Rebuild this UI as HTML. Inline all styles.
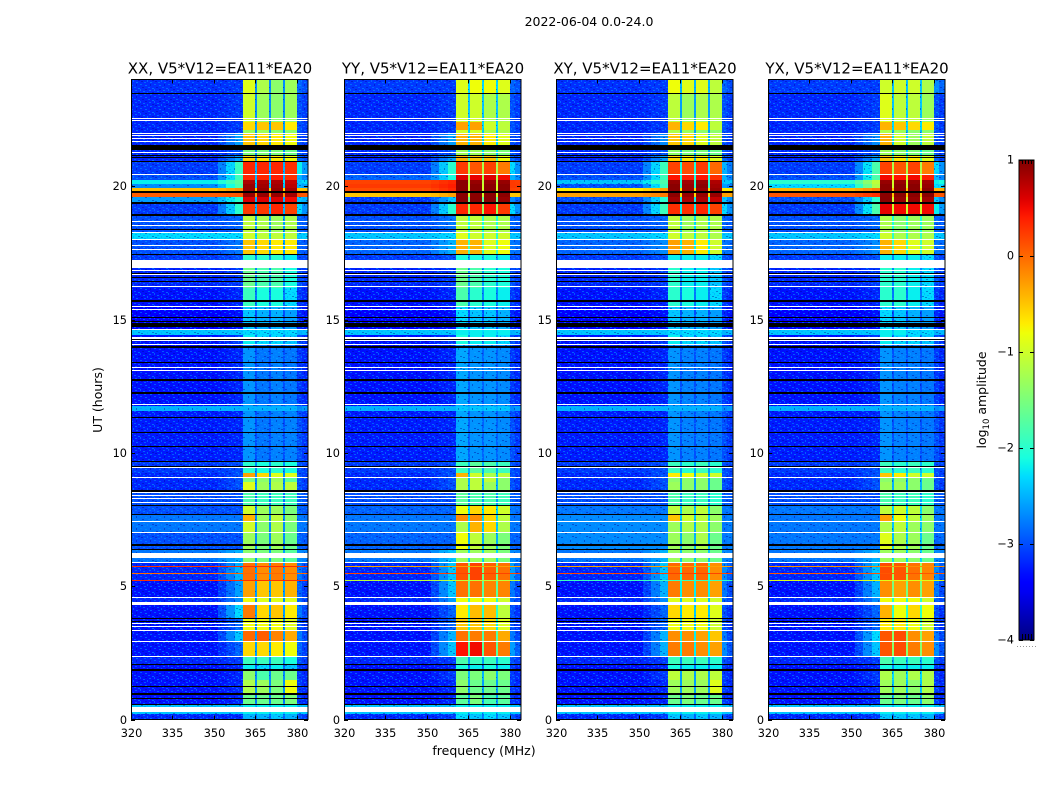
<!DOCTYPE html>
<html lang="en">
<head>
<meta charset="utf-8">
<title>2022-06-04 spectrogram</title>
<style>
html,body{margin:0;padding:0;background:#fff;width:1050px;height:800px;overflow:hidden}
svg{display:block;font-family:"DejaVu Sans","Liberation Sans",sans-serif;fill:#000}
</style>
</head>
<body>
<svg id="chart" xmlns="http://www.w3.org/2000/svg" width="1050" height="800" viewBox="0 0 1050 800">
<defs>
<pattern id="speckle" width="14" height="12" patternUnits="userSpaceOnUse">
<rect x="0" y="0" width="2" height="1" fill="#0090ff" opacity=".55"/>
<rect x="5" y="1" width="2" height="1" fill="#00a0ff" opacity=".55"/>
<rect x="10" y="0" width="1" height="2" fill="#000090" opacity=".4"/>
<rect x="2" y="3" width="2" height="1" fill="#000090" opacity=".4"/>
<rect x="8" y="3" width="2" height="1" fill="#0090ff" opacity=".55"/>
<rect x="12" y="4" width="2" height="1" fill="#00b0ff" opacity=".5"/>
<rect x="0" y="5" width="1" height="2" fill="#00a0ff" opacity=".5"/>
<rect x="5" y="5" width="2" height="1" fill="#000090" opacity=".4"/>
<rect x="9" y="6" width="2" height="1" fill="#0090ff" opacity=".55"/>
<rect x="3" y="7" width="2" height="1" fill="#00a0ff" opacity=".55"/>
<rect x="12" y="8" width="2" height="1" fill="#000090" opacity=".4"/>
<rect x="7" y="8" width="1" height="2" fill="#00a0ff" opacity=".5"/>
<rect x="1" y="9" width="2" height="1" fill="#000090" opacity=".4"/>
<rect x="4" y="10" width="2" height="1" fill="#0090ff" opacity=".55"/>
<rect x="10" y="10" width="2" height="1" fill="#00b0ff" opacity=".5"/>
</pattern>
<linearGradient id="jet-gradient" x1="0" y1="1" x2="0" y2="0"></linearGradient>
</defs>
<text x="589" y="26" text-anchor="middle" font-size="12.5">2022-06-04 0.0-24.0</text>
<text x="484" y="755" text-anchor="middle" font-size="12.5">frequency (MHz)</text>
<text transform="translate(102,400) rotate(-90)" text-anchor="middle" font-size="12.5">UT (hours)</text>
<text transform="translate(986,400) rotate(-90)" text-anchor="middle" font-size="12.5">log<tspan font-size="8.5" dy="3">10</tspan><tspan dy="-3"> amplitude</tspan></text>
<g id="panels"></g>
<g id="colorbar"></g>
</svg>
<script>
// Panel titles
const panelTitles = ["XX, V5*V12=EA11*EA20","YY, V5*V12=EA11*EA20","XY, V5*V12=EA11*EA20","YX, V5*V12=EA11*EA20"];
// Axis tick labels
const freqTicks = [320,335,350,365,380];
const hourTicks = [0,5,10,15,20];
const colorTicks = [1,0,-1,-2,-3,-4];
const colorTickLabels = ["1","0","\u22121","\u22122","\u22123","\u22124"];
// Frequency channel edges (MHz)
const freqEdges = [320,351.5,354.5,357.5,360.4,364.8,365.5,369.8,370.5,374.9,375.6,379.9,382,384];
// UT hour at which each time segment begins, last value is the end of the range
const segmentStarts = [0,.2,.6,.96,1.48,1.86,2.08,2.34,2.91,3.35,3.8,4.3,4.6,5.2,5.9,6.35,7,7.41,7.67,8.05,8.57,8.9,9.06,9.25,9.7,11.56,11.75,14.05,14.42,14.62,15.5,16.2,17,17.42,18.02,18.24,18.95,19.35,19.6,19.78,19.95,20.1,20.22,20.45,20.92,21.12,21.54,21.98,22.12,22.42,23.5,24];
// log10 amplitude per segment: background, shoulder, band1, band2, band3, band4, right edge, gap
const levelsXX = [
[-3.2,-3.2,-2.5,-2.5,-2.4,-2.5,-3,-2.9],[-2.4,-2.4,-2.2,-2.2,-2.2,-2.2,-2.4,-2.4],[-3.3,-3.2,-1.6,-1.6,-1.6,-1.5,-3.1,-2.8],[-3.3,-3.2,-1.2,-1.3,-1.5,-.8,-3.1,-2.7],
[-3.3,-3.2,-1.4,-1.8,-1.6,-1.6,-3.1,-2.7],[-3.3,-3.2,-2.2,-2.3,-2.2,-2.4,-3.1,-2.9],[-3.2,-3.1,-1.9,-1.9,-1.9,-2.1,-3,-2.7],[-3.3,-2.9,-.6,-.6,-.7,-.8,-2.9,-2.6],
[-3.3,-2.4,0,.05,-.15,-.35,-2.8,-2.6],[-3.3,-2.9,-.8,-.8,-.8,-.9,-3,-2.7],[-3.3,-2.3,-.1,-.6,-.5,-.7,-2.8,-2.6],[-3.2,-2.7,-.8,-.9,-.9,-.9,-2.9,-2.7],
[-3.3,-2.6,-.3,-.5,-.5,-.4,-2.9,-2.6],[-3.2,-2.5,-.05,-.2,-.1,-.2,-2.8,-2.6],[-2.8,-2.5,-1.4,-1.5,-1.5,-1.7,-2.7,-2.6],[-3,-3,-1.3,-1.5,-1.3,-1.6,-2.9,-2.7],
[-2.8,-2.8,-1,-1.4,-1.2,-1.5,-2.8,-2.7],[-2.8,-2.8,-.4,-1.3,-1.1,-1.4,-2.8,-2.7],[-3,-3,-1,-1.3,-1.3,-1.5,-2.9,-2.7],[-3,-3,-1.8,-1.9,-1.9,-1.9,-2.9,-2.8],
[-3.2,-3,-.9,-1.3,-1.2,-1.1,-3,-2.7],[-3.2,-3,-1.5,-1.4,-1.3,-1.7,-3,-2.7],[-3.2,-3,-.3,-.6,-.9,-.9,-3,-2.7],[-3.1,-3,-2,-2.1,-2,-2.1,-3,-2.7],
[-3.25,-3.2,-2.65,-2.8,-2.75,-2.75,-3,-3],[-2.5,-2.5,-2.5,-2.5,-2.5,-2.5,-2.7,-2.5],[-3.3,-3.2,-2.65,-2.8,-2.75,-2.8,-3.1,-3],[-3.3,-3.1,-2.2,-2.3,-2.3,-2.4,-3,-2.8],
[-2.4,-2.4,-2.3,-2.3,-2.3,-2.3,-2.5,-2.4],[-3.4,-3.3,-2.4,-2.5,-2.5,-2.6,-3.2,-3],[-3.3,-3.2,-1.9,-2.1,-2.1,-2.3,-3.1,-2.8],[-3.2,-3.1,-1.6,-1.8,-1.8,-2.1,-3,-2.7],
[-3.1,-3,-2,-2,-2,-2.2,-3,-2.7],[-3,-2.8,-.5,-.6,-.7,-.7,-2.9,-2.6],[-2.3,-2.3,-1,-1.1,-1.1,-1.1,-2.4,-2.3],[-3,-2.9,-1.1,-1.2,-1.3,-1.2,-2.9,-2.6],
[-3.1,-2,.25,.25,.35,.2,-2.3,-2.5],[-2.6,-2,.6,.6,.6,.5,-2.4,-2.5],[.05,.1,.9,.9,.9,.85,.1,-.2],[-.45,-.2,.9,.9,.9,.85,-.5,-.6],
[-2.7,-1.8,.9,.85,.85,.75,-2.5,-2.4],[-2.2,-1.7,.8,.8,.8,.7,-2.4,-2.3],[-3,-1.9,.35,.35,.4,.3,-2.5,-2.5],[-3.1,-1.9,.35,.35,.35,.3,-2.2,-2.5],
[-3.2,-2.6,-.6,-.7,-.7,-.8,-2.9,-2.6],[-3.2,-3,-1.5,-1.5,-1.5,-1.6,-3,-2.7],[-3.2,-2.6,-.5,-.6,-.7,-.8,-3,-2.6],[-3.2,-3.1,-1.3,-1.3,-1.4,-1.4,-3,-2.7],
[-3.2,-3.1,-.6,-.5,-.5,-.7,-3,-2.6],[-3.2,-3.1,-1,-1.3,-1.4,-1.3,-3,-2.7],[-3.15,-3.1,-.9,-1.2,-1.4,-1.3,-2.9,-2.7]
];
const levelsYY = [
[-3.2,-3.1,-2.3,-2.4,-2.3,-2.4,-3,-2.8],[-2.4,-2.4,-2.2,-2.2,-2.2,-2.2,-2.4,-2.4],[-3.3,-3.2,-1.7,-1.5,-1.8,-1.7,-3.1,-2.6],[-3.3,-3.2,-1.4,-1.6,-1.6,-1.6,-3.1,-2.6],
[-3.3,-3.1,-1.5,-1.5,-1.4,-1.5,-3.1,-2.5],[-3.3,-3.2,-2.1,-2.2,-2.1,-2.2,-3.1,-2.8],[-3.2,-3.1,-1.8,-1.9,-1.9,-2,-3,-2.6],[-3.3,-2.4,.45,.5,.1,-.1,-2.6,-1.7],
[-3.3,-2.5,-.05,-.1,-.1,-.35,-2.8,-1.8],[-3.3,-2.9,-.5,-.5,-.6,-.9,-3,-2.2],[-3.3,-2.9,-.7,-.45,-.45,-1.1,-3,-2],[-3.2,-2.6,-.8,-.8,-.8,-1,-2.9,-2],
[-3.3,-2.4,-.05,-.05,-.15,-.15,-2.8,-1.7],[-3.2,-2.4,.1,.2,.05,-.05,-2.6,-1.6],[-2.8,-2.4,-1.3,-1.3,-1.3,-1.5,-2.7,-2.3],[-2.9,-2.9,-.8,-1.1,-1.3,-1.5,-2.9,-2.5],
[-2.8,-2.8,-1.2,-.4,-.6,-1.2,-2.8,-2.4],[-2.8,-2.8,-.2,-.2,-.6,-1.1,-2.8,-2.3],[-2.9,-2.9,-.8,-.6,-.7,-1,-2.8,-2.3],[-3,-3,-1.7,-1.8,-1.8,-1.9,-2.9,-2.6],
[-3.2,-3,-1.2,-1.1,-1.3,-1.4,-3,-2.5],[-3.2,-3,-1.2,-1.1,-1.1,-1.4,-3,-2.5],[-3.2,-3,-.4,-1,-1.2,-1.1,-3,-2.4],[-3.1,-3,-1.9,-1.7,-1.8,-1.9,-3,-2.5],
[-3.25,-3.2,-2.55,-2.65,-2.65,-2.7,-3,-2.9],[-2.5,-2.5,-2.4,-2.4,-2.4,-2.4,-2.7,-2.5],[-3.3,-3.2,-2.55,-2.65,-2.65,-2.7,-3.1,-2.9],[-3.3,-3.1,-2.1,-2.2,-2.2,-2.3,-3,-2.7],
[-2.4,-2.4,-2.2,-2.2,-2.2,-2.2,-2.5,-2.3],[-3.4,-3.3,-2.3,-2.4,-2.4,-2.5,-3.2,-3],[-3.3,-3.2,-1.8,-2,-2.1,-2.2,-3.1,-2.7],[-3.2,-3.1,-1.6,-1.8,-2,-2.1,-3,-2.6],
[-3.1,-3,-2.1,-2.1,-2.1,-2.2,-3,-2.6],[-2.9,-2.5,-.4,-.4,-.9,-.8,-2.8,-1.9],[-2.4,-2.3,-.9,-1,-1,-1,-2.4,-2],[-3,-2.8,-1.1,-1.1,-1.2,-1.2,-2.9,-2.1],
[-3.1,-2,.35,.35,.45,.25,-2.3,-1.3],[-3.1,-2.4,.95,.95,.95,.9,-2.7,-1.6],[-.5,-.3,.95,.95,.95,.95,-.5,-1],[.15,.35,.95,.95,.95,.95,.2,-1],
[.25,.4,.95,.95,.95,.95,.25,-1],[.2,.35,.95,.9,.9,.9,.25,-1.1],[-2.9,-2.1,.6,.55,.6,.5,-2.5,-1.2],[-3.1,-2,.25,.1,.2,-.1,-2.3,-1.2],
[-3.2,-2.6,-.4,-.5,-.5,-.8,-2.9,-1.8],[-3.2,-3,-1.3,-1.3,-1.4,-1.5,-3,-2.3],[-3.2,-2.6,-.4,-.4,-.7,-.9,-3,-2.3],[-3.2,-3.1,-1,-1,-1.2,-1.2,-3,-2.4],
[-3.2,-3.1,-.3,-.3,-1,-1.1,-3,-2.3],[-3.2,-3.1,-1,-1,-1.2,-1.2,-3,-2.4],[-3.1,-3.1,-.9,-.8,-.8,-.9,-2.9,-2.3]
];
const levelsXY = [
[-3.2,-3.1,-2.4,-2.5,-2.4,-2.5,-3,-2.9],[-2.4,-2.4,-2.2,-2.2,-2.2,-2.2,-2.4,-2.4],[-3.3,-3.2,-1.6,-1.5,-1.6,-1.6,-3.1,-2.7],[-3.3,-3.2,-1.3,-1.3,-1.3,-.9,-3.1,-2.6],
[-3.3,-3.1,-1.1,-1.2,-1.2,-1.1,-3.1,-2.6],[-3.3,-3.2,-2.1,-2.2,-2.2,-2.2,-3.1,-2.8],[-3.2,-3.1,-1.9,-1.9,-1.9,-2,-3,-2.7],[-3.3,-2.5,-.1,-.1,-.2,-.3,-2.7,-2.2],
[-3.3,-2.5,-.2,-.2,-.3,-.5,-2.8,-2.2],[-3.3,-2.9,-.8,-.8,-.8,-1,-3,-2.4],[-3.3,-2.9,-.6,-.7,-.7,-.9,-3,-2.4],[-3.2,-2.7,-.9,-.9,-.9,-1,-2.9,-2.4],
[-3.3,-2.5,-.1,-.2,-.2,-.3,-2.8,-2.2],[-3.2,-2.4,0,0,0,-.2,-2.7,-2.1],[-2.8,-2.5,-1.3,-1.4,-1.4,-1.6,-2.7,-2.4],[-2.7,-2.7,-1.3,-1.4,-1.2,-1.6,-2.8,-2.5],
[-2.7,-2.7,-1.3,-1.2,-1.2,-1.4,-2.8,-2.5],[-2.7,-2.7,-.5,-1,-1.1,-1.3,-2.8,-2.4],[-2.8,-2.8,-1.1,-1.2,-1.1,-1.4,-2.8,-2.4],[-3,-3,-1.8,-1.9,-1.9,-2,-2.9,-2.7],
[-3.2,-3,-1.3,-1.4,-1.4,-1.6,-3,-2.6],[-3.2,-3,-1.4,-1.4,-1.4,-1.6,-3,-2.6],[-3.2,-3,-.7,-.8,-1,-1,-3,-2.5],[-3.1,-3,-1.9,-2,-1.9,-2,-3,-2.6],
[-3.25,-3.2,-2.65,-2.75,-2.75,-2.8,-3,-3],[-2.5,-2.5,-2.5,-2.5,-2.5,-2.5,-2.7,-2.5],[-3.3,-3.2,-2.65,-2.75,-2.75,-2.8,-3.1,-3],[-3.3,-3.1,-2.2,-2.3,-2.3,-2.4,-3,-2.8],
[-2.4,-2.4,-2.3,-2.3,-2.3,-2.3,-2.5,-2.4],[-3.4,-3.3,-2.4,-2.5,-2.5,-2.6,-3.2,-3],[-3.3,-3.2,-2,-2.1,-2.2,-2.3,-3.1,-2.8],[-3.2,-3.1,-2,-2.2,-2.2,-2.4,-3,-2.8],
[-3.1,-3,-2.2,-2.2,-2.2,-2.3,-3,-2.7],[-2.9,-2.7,-.3,-.4,-.7,-1,-2.8,-2.2],[-2.4,-2.3,-1,-1.1,-1.1,-1.2,-2.4,-2.2],[-3,-2.9,-1.1,-1.3,-1.2,-1.2,-2.9,-2.3],
[-3.1,-1.9,.3,.3,.35,.2,-2.3,-2.2],[-3,-2,.85,.8,.8,.7,-2.4,-2.2],[-.3,-.1,.95,.9,.9,.9,-.3,-.6],[-.7,-.3,.95,.9,.9,.9,-.7,-.6],
[-3,-1.9,.95,.9,.95,.85,-2.6,-2],[-2.4,-1.8,.9,.85,.9,.8,-2.4,-2],[-3,-1.9,.45,.4,.45,.3,-2.5,-2.1],[-3.1,-1.9,.2,.15,.25,0,-2.5,-2.1],
[-3.2,-2.6,-.6,-.7,-.7,-.9,-2.9,-2.4],[-3.2,-3,-1.4,-1.5,-1.5,-1.6,-3,-2.6],[-3.2,-2.7,-.5,-.6,-.9,-1.1,-3,-2.5],[-3.2,-3.1,-1.2,-1.3,-1.4,-1.4,-3,-2.6],
[-3.2,-3.1,-.4,-.6,-.7,-1.1,-3,-2.5],[-3.2,-3.1,-1.1,-1.3,-1.2,-1.2,-3,-2.6],[-3.15,-3.1,-.8,-.9,-.9,-1.1,-2.9,-2.5]
];
const levelsYX = [
[-3.2,-3.1,-2.4,-2.4,-2.4,-2.5,-3,-2.8],[-2.4,-2.4,-2.2,-2.2,-2.2,-2.2,-2.4,-2.4],[-3.3,-3.2,-1.6,-1.5,-1.6,-1.4,-3.1,-2.5],[-3.3,-3.2,-1.3,-1.3,-1.4,-1.2,-3.1,-2.4],
[-3.3,-3.1,-1.2,-1.3,-1.2,-1.2,-3.1,-2.3],[-3.3,-3.2,-2.1,-2.2,-2.2,-2.2,-3.1,-2.7],[-3.2,-3.1,-1.8,-1.9,-1.9,-2,-3,-2.5],[-3.3,-2.4,.1,.15,-.1,-.2,-2.7,-1.4],
[-3.3,-2.3,.1,.15,-.2,-.3,-2.8,-1.4],[-3.3,-2.9,-.7,-.7,-.8,-1,-3,-2],[-3.3,-2.9,-.4,-.8,-.6,-.8,-3,-2],[-3.2,-2.7,-.8,-.8,-.8,-1,-2.9,-2],
[-3.3,-2.5,-.2,-.3,-.2,-.3,-2.8,-1.5],[-3.2,-2.4,.15,.1,-.05,-.15,-2.7,-1.3],[-2.8,-2.5,-1.3,-1.3,-1.4,-1.6,-2.7,-2.3],[-2.8,-2.8,-.9,-1.2,-1.3,-1.6,-2.9,-2.4],
[-2.8,-2.8,-1.2,-1.1,-1.3,-1.4,-2.8,-2.4],[-2.8,-2.8,-.3,-.8,-1.1,-1.3,-2.8,-2.3],[-2.8,-2.8,-1.1,-1,-1.1,-1.4,-2.8,-2.3],[-3,-3,-1.8,-1.9,-1.9,-2,-2.9,-2.6],
[-3.2,-3,-1.3,-1.3,-1.4,-1.6,-3,-2.5],[-3.2,-3,-1.4,-1.4,-1.4,-1.6,-3,-2.5],[-3.2,-3,-.5,-.7,-1,-1,-3,-2.3],[-3.1,-3,-1.9,-2,-1.9,-2,-3,-2.5],
[-3.25,-3.2,-2.65,-2.75,-2.75,-2.8,-3,-3],[-2.5,-2.5,-2.5,-2.5,-2.5,-2.5,-2.7,-2.5],[-3.3,-3.2,-2.65,-2.75,-2.75,-2.8,-3.1,-3],[-3.3,-3.1,-2.2,-2.3,-2.3,-2.4,-3,-2.8],
[-2.4,-2.4,-2.2,-2.2,-2.3,-2.3,-2.5,-2.4],[-3.4,-3.3,-2.3,-2.4,-2.5,-2.6,-3.2,-3],[-3.3,-3.2,-2,-2,-2.2,-2.3,-3.1,-2.8],[-3.2,-3.1,-2,-2,-2.2,-2.3,-3,-2.7],
[-3.1,-3,-2.2,-2.2,-2.2,-2.3,-3,-2.7],[-2.9,-2.7,-.4,-.6,-.9,-1,-2.8,-1.9],[-2.4,-2.3,-1,-1.2,-1.2,-1.2,-2.4,-2],[-3,-2.9,-1.2,-1.4,-1.3,-1.3,-2.9,-2.1],
[-3.1,-1.8,.55,.5,.5,.5,-2.2,-1],[-3,-2,.95,.9,.9,.85,-2.4,-1],[.1,.3,.95,.95,.95,.95,.1,-.5],[-.4,-.1,.95,.95,.95,.95,-.4,-.5],
[-2.3,-1.2,.95,.95,.95,.9,-2.3,-1],[-2,-1.1,.9,.9,.9,.85,-2.2,-1],[-3,-1.8,.5,.45,.5,.4,-2.5,-1],[-3.1,-1.8,.2,.1,.2,-.1,-2.3,-1.2],
[-3.2,-2.6,-.5,-.7,-.7,-.9,-2.9,-1.8],[-3.2,-3,-1.3,-1.4,-1.5,-1.6,-3,-2.3],[-3.2,-2.7,-.4,-1,-1.3,-1.1,-3,-2.3],[-3.2,-3.1,-1.2,-1.3,-1.4,-1.4,-3,-2.5],
[-3.2,-3.1,-.4,-.5,-.6,-.7,-3,-2.3],[-3.2,-3.1,-.9,-1.1,-1.1,-1.3,-3,-2.4],[-3.1,-3.1,-1,-1,-1,-1.2,-2.7,-2.4]
];
// Narrow interference lines: UT hour and per-product log10 amplitude
const lineHours = [5.75,5.49,5.23];
const lineLevelsXX = [.3,0,.3];
const lineLevelsYY = [-.3,.2,-1.1];
const lineLevelsXY = [-.3,.2,-1.9];
const lineLevelsYX = [-.2,.1,-.9];
// Flagged rows, UT hour centre and duration in hours
const whiteFlagHours = [22.53,22.47,21.98,21.88,21.78,21.68,21.25,20.43,18.67,18.53,18.24,18.01,17.78,17.63,17.1,16.93,16.84,16.67,16.22,15.48,15.36,14.62,14.27,14.04,13.21,13.07,11.79,9.43,9.06,8.49,8.38,8.27,8.12,7.41,6.99,6.15,5.87,4.56,4.35,3.58,3.47,3.32,2.91,2.34,.385];
const whiteFlagSpans = [.04,.04,.05,.05,.05,.05,.05,.05,.05,.05,.05,.05,.05,.05,.27,.05,.05,.05,.05,.05,.05,.05,.16,.05,.05,.05,.05,.05,.05,.05,.05,.05,.05,.05,.05,.19,.05,.05,.13,.05,.05,.05,.05,.05,.2];
const blackFlagHours = [23.48,21.46,21.15,21.09,20.92,19.78,19.37,18.92,18.36,17.42,16.74,16.59,16.41,15.69,15.09,14.94,14.8,14.24,13.98,13.39,12.73,12.24,11.31,10.78,10.22,9.66,9.47,8.57,8.01,7.67,6.58,6.51,6.39,3.77,3.69,2.08,1.86,1.22,.96,.77,.58];
const blackFlagSpans = [.04,.17,.04,.04,.04,.08,.08,.08,.04,.04,.04,.04,.04,.08,.04,.04,.15,.04,.08,.04,.08,.08,.04,.04,.04,.04,.04,.08,.04,.04,.04,.04,.04,.04,.04,.04,.08,.04,.08,.04,.04];

const panelLefts = [131,344,556,768];
const panelLevels = [levelsXX,levelsYY,levelsXY,levelsYX];
const panelLines = [lineLevelsXX,lineLevelsYY,lineLevelsXY,lineLevelsYX];
const panelNames = ['xx','yy','xy','yx'];
const plotWidth = 177, plotTop = 79.5, plotBottom = 719.5;
const cbLeft = 1019, cbWidth = 15, cbTop = 160, cbBottom = 640;
const SVGNS = 'http://www.w3.org/2000/svg';

function xScale(mhz, left){ return left + (mhz - 320) * plotWidth / 64; }
function yScale(h){ return plotBottom - h * (plotBottom - plotTop) / 24; }
function cbScale(v){ return cbTop + (1 - v) * (cbBottom - cbTop) / 5; }
function interp(stops, t){
  for (let i = 1; i < stops.length; i++) {
    if (t <= stops[i][0]) {
      const a = stops[i-1], b = stops[i];
      return a[1] + (b[1]-a[1]) * (t-a[0]) / (b[0]-a[0]);
    }
  }
  return stops[stops.length-1][1];
}
function jet(v){
  const t = Math.max(0, Math.min(1, (v + 4) / 5));
  const r = interp([[0,0],[.35,0],[.66,1],[.89,1],[1,.5]], t);
  const g = interp([[0,0],[.125,0],[.375,1],[.64,1],[.91,0],[1,0]], t);
  const b = interp([[0,.5],[.11,1],[.34,1],[.65,0],[1,0]], t);
  return 'rgb(' + Math.round(r*255) + ',' + Math.round(g*255) + ',' + Math.round(b*255) + ')';
}
function make(tag, attrs, parent){
  const el = document.createElementNS(SVGNS, tag);
  for (const k in attrs) el.setAttribute(k, attrs[k]);
  parent.appendChild(el);
  return el;
}
function flagRow(hour, span, fill, left, parent, name){
  const y = Math.round(yScale(hour + span / 2));
  const h = Math.max(1, Math.round(span * (plotBottom - plotTop) / 24));
  const el = make('rect', {x:left, y:y, width:plotWidth, height:h, fill:fill, 'shape-rendering':'crispEdges'}, parent);
  
  
}

// frequency span -> index into each level row; fade blends that column toward the background level
const spanColumn = [0,1,1,1,2,7,3,7,4,7,5,6,6];
const spanFade = [1,.3,.65,1,1,1,1,1,1,1,1,1,.55];

const panelsRoot = document.getElementById('panels');
panelLefts.forEach(function(left, p){
  const g = make('g', {}, panelsRoot);
  
  
  const rows = panelLevels[p];
  rows.forEach(function(row, s){
    const y0 = Math.round(yScale(segmentStarts[s+1]));
    const y1 = Math.round(yScale(segmentStarts[s]));
    spanColumn.forEach(function(col, c){
      const x0 = Math.round(xScale(freqEdges[c], left));
      const x1 = Math.round(xScale(freqEdges[c+1], left));
      const level = row[0] + (row[col] - row[0]) * spanFade[c];
      const cell = make('rect', {x:x0, y:y0, width:x1-x0, height:y1-y0, fill:jet(level), 'shape-rendering':'crispEdges'}, g);
      
      
      if (level < -2.2) {
        const sp = make('rect', {x:x0, y:y0, width:x1-x0, height:y1-y0, fill:'url(#speckle)', 'shape-rendering':'crispEdges'}, g);
        
        
      }
    });
  });
  lineHours.forEach(function(h, i){
    flagRow(h, .04, jet(panelLines[p][i]), left, g, 'interference-line');
  });
  whiteFlagHours.forEach(function(h, i){
    flagRow(h, whiteFlagSpans[i], '#fff', left, g, 'flagged-row-white');
  });
  blackFlagHours.forEach(function(h, i){
    flagRow(h, blackFlagSpans[i], '#000', left, g, 'flagged-row-black');
  });
  const frame = make('rect', {x:left+.5, y:plotTop, width:plotWidth-.5, height:plotBottom-plotTop, fill:'none', stroke:'#000', 'stroke-width':1, 'shape-rendering':'crispEdges'}, g);
  
  
  const title = make('text', {x:left+plotWidth/2+.5, y:73.5, 'text-anchor':'middle', 'font-size':15}, g);
  title.textContent = panelTitles[p];
  
  
  freqTicks.forEach(function(f){
    const x = Math.round(xScale(f, left)) + .5;
    const t1 = make('line', {x1:x, x2:x, y1:plotBottom, y2:plotBottom-4, stroke:'#000'}, g);
    
    
    const t2 = make('line', {x1:x, x2:x, y1:plotTop, y2:plotTop+4, stroke:'#000'}, g);
    
    
    const lab = make('text', {x:x, y:plotBottom+17.5, 'text-anchor':'middle', 'font-size':11.3}, g);
    lab.textContent = f;
    
    
  });
  hourTicks.forEach(function(h){
    const y = Math.round(yScale(h)) + .5;
    const t1 = make('line', {x1:left, x2:left+4, y1:y, y2:y, stroke:'#000'}, g);
    
    
    const t2 = make('line', {x1:left+plotWidth, x2:left+plotWidth-4, y1:y, y2:y, stroke:'#000'}, g);
    
    
    const lab = make('text', {x:left-4, y:y+3.4, 'text-anchor':'end', 'font-size':11.3}, g);
    lab.textContent = h;
    
    
  });
});

// Colorbar
const grad = document.getElementById('jet-gradient');
for (let i = 0; i <= 50; i++) {
  make('stop', {offset:(i*2)+'%', 'stop-color':jet(-4 + i/10)}, grad);
}
const cb = document.getElementById('colorbar');
const cbFill = make('rect', {x:cbLeft, y:cbTop, width:cbWidth, height:cbBottom-cbTop, fill:'url(#jet-gradient)', stroke:'#000', 'stroke-width':1, 'shape-rendering':'crispEdges'}, cb);


colorTicks.forEach(function(v, i){
  const y = Math.round(cbScale(v)) + .5;
  const a = make('line', {x1:cbLeft, x2:cbLeft+4, y1:y, y2:y, stroke:'#000'}, cb);
  
  
  const b = make('line', {x1:cbLeft+cbWidth, x2:cbLeft+cbWidth-4, y1:y, y2:y, stroke:'#000'}, cb);
  
  
  const lab = make('text', {x:cbLeft-5, y:y+3, 'text-anchor':'end', 'font-size':11.3}, cb);
  lab.textContent = colorTickLabels[i];
  
  
});
[3,6,9,12].forEach(function(dx){
  const top = make('line', {x1:cbLeft+dx+.5, x2:cbLeft+dx+.5, y1:cbTop, y2:cbTop+4, stroke:'#000'}, cb);
  
  
  const bot = make('line', {x1:cbLeft+dx+.5, x2:cbLeft+dx+.5, y1:cbBottom, y2:cbBottom-6, stroke:'#000'}, cb);
  
  
});
[-2,1,4,7,10,13,16].forEach(function(dx){
  const dot = make('rect', {x:cbLeft+dx, y:646, width:1, height:1, fill:'#999'}, cb);
  
  
});
</script>
</body>
</html>
